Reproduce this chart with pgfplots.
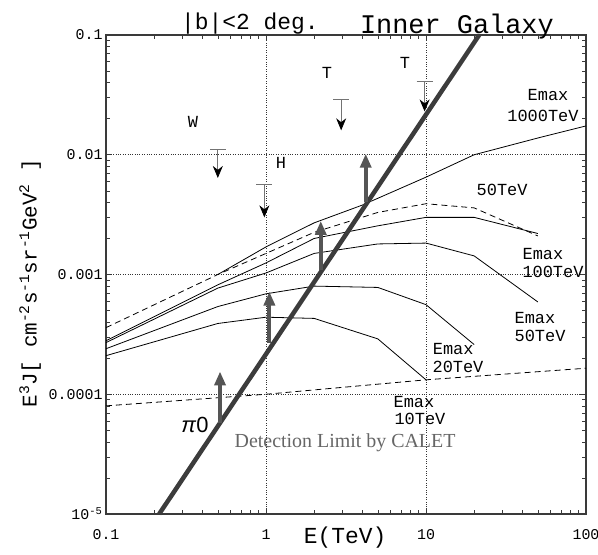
\documentclass[border=0pt]{standalone}
\usepackage{fontspec}
\setmainfont{Liberation Serif}
\setmonofont{Liberation Mono}
\newfontfamily\sansf{Liberation Sans}
\usepackage{pgfplots}
\pgfplotsset{compat=1.18}
\usetikzlibrary{arrows.meta}

\definecolor{frame}{HTML}{3A3A3A}
\definecolor{pion}{HTML}{3C3C3C}
\definecolor{arr}{HTML}{555555}
\definecolor{calet}{HTML}{666666}
\newcommand{\fs}[1]{\fontsize{#1}{#1}\selectfont}

\begin{document}
\begin{tikzpicture}
\begin{axis}[
  at={(0,0)}, anchor=south west,
  scale only axis, width=480bp, height=479bp,
  xmode=log, ymode=log,
  xmin=0.1, xmax=100, ymin=1e-5, ymax=0.1,
  axis line style={frame, line width=1.6bp},
  xtick={0.1,1,10,100}, xticklabels={0.1,1,10,100},
  ytick={1e-5,1e-4,1e-3,1e-2,1e-1},
  yticklabels={10\textsuperscript{-5},0.0001,0.001,0.01,0.1},
  ticklabel style={font=\ttfamily\fs{15}},
  xticklabel style={yshift=-12bp},
  major tick length=6bp, minor tick length=4bp,
  tick style={frame, line width=0.6bp},
  grid=major,
  major grid style={black!80, dotted, line width=0.7bp},
  clip=false,
  every axis plot/.append style={line join=round},
]
% model curves
\addplot[black, line width=0.8bp] coordinates {(0.5,1.0e-3) (1,1.7e-3) (2,2.7e-3) (4,3.8e-3) (10,6.5e-3) (20,1.0e-2) (50,1.38e-2) (100,1.74e-2)};
\addplot[black, line width=0.8bp, dash pattern=on 6bp off 4bp] coordinates {(0.1,3.6e-4) (0.5,1.0e-3) (1,1.5e-3) (2,2.25e-3) (5,3.3e-3) (10,3.9e-3) (20,3.6e-3) (50,2.1e-3)};
\addplot[black, line width=0.8bp] coordinates {(0.1,2.8e-4) (0.5,8.2e-4) (1,1.25e-3) (2,2.0e-3) (5,2.55e-3) (10,3.0e-3) (20,3.0e-3) (50,2.2e-3)};
\addplot[black, line width=0.8bp] coordinates {(0.1,2.7e-4) (0.5,7.7e-4) (1,1.03e-3) (2,1.5e-3) (5,1.8e-3) (10,1.83e-3) (20,1.43e-3) (50,5.9e-4)};
\addplot[black, line width=0.8bp] coordinates {(0.1,2.4e-4) (0.5,5.4e-4) (1,6.9e-4) (2,8.0e-4) (5,7.8e-4) (10,5.6e-4) (20,2.6e-4)};
\addplot[black, line width=0.8bp] coordinates {(0.1,2.1e-4) (0.5,3.9e-4) (1,4.4e-4) (2,4.3e-4) (5,2.9e-4) (10,1.32e-4)};
% detection limit
\addplot[black, line width=0.8bp, dash pattern=on 6bp off 4bp] coordinates {(0.1,8.0e-5) (1,1.0e-4) (10,1.32e-4) (100,1.65e-4)};
% pi0
\addplot[pion, line width=4.5bp] coordinates {(0.215,1e-5) (21.5,0.1)};
% lower-limit arrows
\addplot[arr, line width=4bp, -{Triangle[length=14bp,width=11bp]}] coordinates {(0.516,5.7e-5) (0.516,1.55e-4)};
\addplot[arr, line width=4bp, -{Triangle[length=14bp,width=11bp]}] coordinates {(1.05,2.7e-4) (1.05,7.2e-4)};
\addplot[arr, line width=4bp, -{Triangle[length=14bp,width=11bp]}] coordinates {(2.2,1.1e-3) (2.2,2.8e-3)};
\addplot[arr, line width=4bp, -{Triangle[length=14bp,width=11bp]}] coordinates {(4.2,4.0e-3) (4.2,1.02e-2)};
% upper limits
\addplot[black!55, line width=0.8bp, -{Stealth[length=12bp,width=10bp,color=black]}] coordinates {(0.5,0.011) (0.5,0.0064)};
\addplot[black!55, line width=0.8bp] coordinates {(0.446,0.011) (0.56,0.011)};
\addplot[black!55, line width=0.8bp, -{Stealth[length=12bp,width=10bp,color=black]}] coordinates {(0.977,0.0057) (0.977,0.0030)};
\addplot[black!55, line width=0.8bp] coordinates {(0.872,0.0057) (1.095,0.0057)};
\addplot[black!55, line width=0.8bp, -{Stealth[length=12bp,width=10bp,color=black]}] coordinates {(2.95,0.029) (2.95,0.016)};
\addplot[black!55, line width=0.8bp] coordinates {(2.63,0.029) (3.31,0.029)};
\addplot[black!55, line width=0.8bp, -{Stealth[length=12bp,width=10bp,color=black]}] coordinates {(9.8,0.041) (9.8,0.023)};
\addplot[black!55, line width=0.8bp] coordinates {(8.75,0.041) (11.0,0.041)};
% labels
\begin{scope}[every node/.style={font=\ttfamily\fs{17}, inner sep=0pt}]
\node at (axis cs:0.35,0.0187) {W};
\node at (axis cs:1.24,0.0085) {H};
\node at (axis cs:2.4,0.048) {T};
\node at (axis cs:7.4,0.058) {T};
\node at (axis cs:57.9,0.0316) {Emax};
\node at (axis cs:53.8,0.0211) {1000TeV};
\node at (axis cs:29.9,0.00508) {50TeV};
\node at (axis cs:53.8,0.00148) {Emax};
\node at (axis cs:62.2,0.00105) {100TeV};
\node at (axis cs:48,4.34e-4) {Emax};
\node at (axis cs:51.6,3.06e-4) {50TeV};
\node at (axis cs:14.8,2.39e-4) {Emax};
\node at (axis cs:15.85,1.69e-4) {20TeV};
\node at (axis cs:8.41,8.6e-5) {Emax};
\node at (axis cs:9.17,6.2e-5) {10TeV};
\end{scope}
\node[font=\sansf\fs{22}, inner sep=0pt] at (axis cs:0.36,5.5e-5) {\textit{π}0};
\node[font=\fs{20}, text=calet, inner sep=0pt] at (axis cs:3.12,3.9e-5) {Detection Limit by CALET};
% titles and axis labels
\node[font=\ttfamily\fs{23}, anchor=base] at (rel axis cs:0.30,1) [yshift=6bp] {|b|<2 deg.};
\node[font=\ttfamily\fs{27}, anchor=base] at (rel axis cs:0.731,1) [yshift=2bp] {Inner Galaxy};
\node[font=\ttfamily\fs{23}] at (rel axis cs:0.498,0) [yshift=-24bp] {E(TeV)};
\node[font=\ttfamily\fs{21}, rotate=90] at (rel axis cs:-0.158,0.482) {E\textsuperscript{3}J[ cm\textsuperscript{-2}s\textsuperscript{-1}sr\textsuperscript{-1}GeV\textsuperscript{2} ]};
\end{axis}
\pgfresetboundingbox
\path (-106bp,-41bp) rectangle (492bp,514bp);
\end{tikzpicture}
\end{document}
